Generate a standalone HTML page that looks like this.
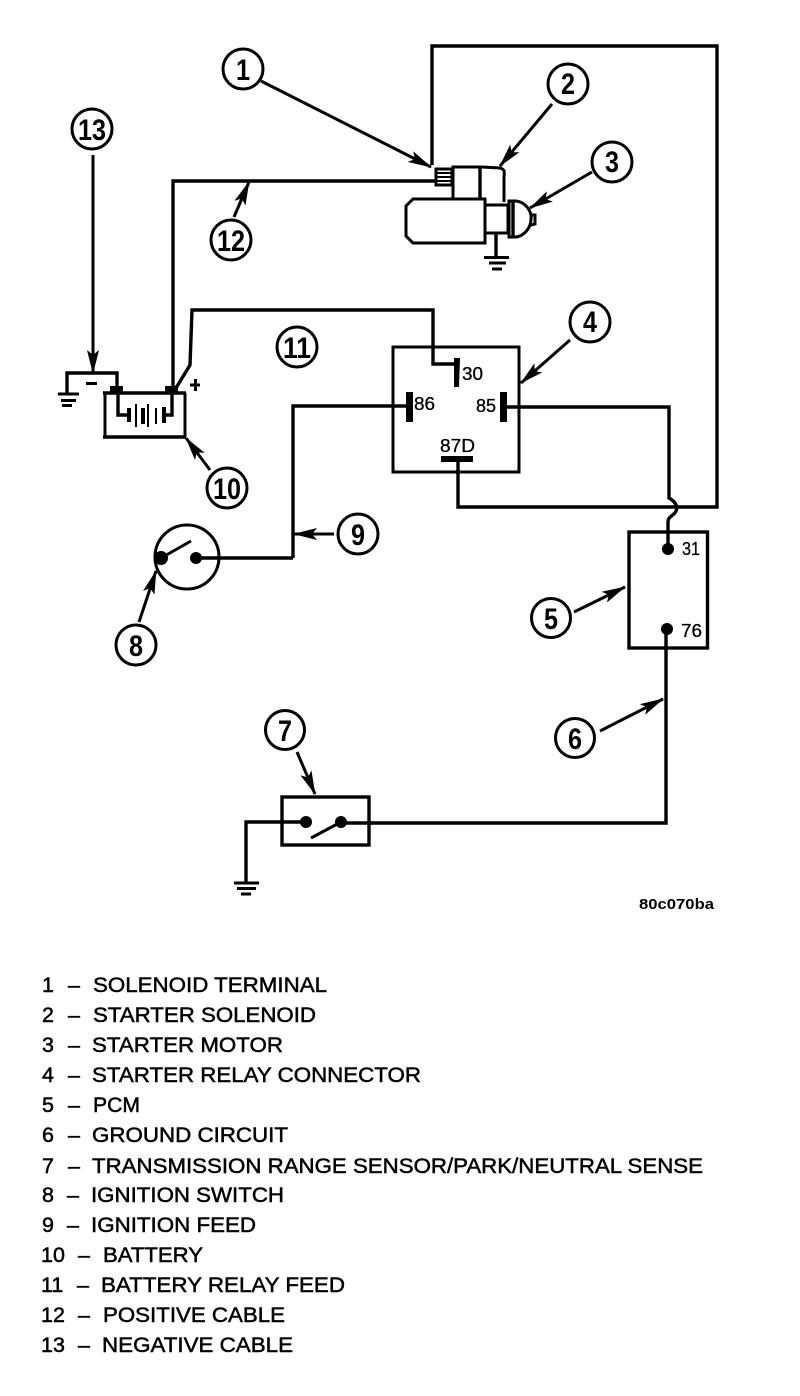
<!DOCTYPE html>
<html>
<head>
<meta charset="utf-8">
<style>
html,body{margin:0;padding:0;background:#fff}
svg{display:block}
text{font-family:"Liberation Sans",sans-serif;fill:#000}
.l{font-size:21.5px;stroke:#000;stroke-width:.5px}
.c{font-size:30px;font-weight:bold;text-anchor:middle}
.p{font-size:18.500px;stroke:#000;stroke-width:.3px}
.w{fill:none;stroke:#000;stroke-width:3.4}
.t{fill:none;stroke:#000;stroke-width:3}
.a{fill:none;stroke:#000;stroke-width:3;marker-end:url(#ah)}
circle.n{fill:#fff;stroke:#000;stroke-width:3}
</style>
</head>
<body>
<svg width="800" height="1396" viewBox="0 0 800 1396" xmlns="http://www.w3.org/2000/svg">
<defs>
<marker id="ah" markerUnits="userSpaceOnUse" markerWidth="26" markerHeight="14" refX="23" refY="6" orient="auto" viewBox="0 0 26 12">
<path d="M0 0L24 6L0 12L5 6Z" fill="#000"/>
</marker>
</defs>
<rect width="800" height="1396" fill="#fff"/>

<!-- wires -->
<path class="w" d="M432 165V46H717V507H458V460"/>
<path class="w" d="M173 391V181H436"/>
<path class="w" d="M176 388L190 365L192 310H433V364H456"/>
<path class="w" d="M293 558V406H408"/>
<path class="w" d="M200 558H293"/>
<path class="w" d="M503 407H669V498C676 502 678 507 676 511C674 516 668 516 668 522V548"/>
<path class="w" d="M666 628V823H370"/>
<path class="w" d="M246 882V822H306"/>
<path class="w" d="M341 823H372"/>

<!-- starter -->
<path class="t" d="M436 169H452V185H436Z"/>
<path d="M437 173H451M437 177H451M437 181H451" stroke="#000" stroke-width="2" fill="none"/>
<path class="t" d="M453 199V167H482L500 168C506 170 504 172 504 178V202"/>
<path class="w" d="M480 167V199"/>
<path class="t" d="M413 199H485V243H413L406 236V206Z"/>
<path class="t" d="M485 205H508V233H485"/>
<path class="t" d="M509 201H516C526 202 532 212 531 219C531 228 524 236 516 237H509Z"/>
<path class="w" d="M513 202V236"/>
<path class="t" d="M531 215L535 215V224L531 225"/>
<path class="w" d="M496 234V257"/>
<path class="t" d="M484 257.500H509M489 263H506M492 269H502"/>

<!-- battery -->
<path class="w" d="M103 393H186M103 437H186"/>
<path class="t" d="M105 393V437M185 393V437"/>
<path d="M110 386H123V392H110ZM165 386H178V392H165Z" fill="#000"/>
<path class="w" d="M117 388V373H67V393"/>
<path class="w" d="M118 392V415H128"/>
<path class="w" d="M172 392V415H164"/>
<path d="M127 408H131V422H127ZM135 404H137V427H135ZM141 408H145V424H141ZM147 404H149V427H147ZM155 408H157V424H155ZM162 407H166V423H162Z" fill="#000"/>
<path class="t" d="M58 394H79M61 400.500H76M62 405.500H72"/>
<path d="M86 382H97V385H86Z" fill="#000"/>
<path d="M194 379H197V391H194ZM190 383.500H200V386.500H190Z" fill="#000"/>

<!-- relay -->
<rect class="t" x="393" y="347" width="126" height="125"/>
<path d="M454 358H460L459 387H454ZM406 392H413V422H406ZM500 392H507V422H500ZM441 456H473V462H441Z" fill="#000"/>
<text class="p" x="462" y="380" textLength="21" lengthAdjust="spacingAndGlyphs">30</text>
<text class="p" x="414" y="410" textLength="21" lengthAdjust="spacingAndGlyphs">86</text>
<text class="p" x="476" y="412" textLength="20" lengthAdjust="spacingAndGlyphs">85</text>
<text class="p" x="440" y="452" textLength="35" lengthAdjust="spacingAndGlyphs">87D</text>

<!-- PCM -->
<rect class="w" x="629" y="532" width="78.500" height="116"/>
<circle cx="668" cy="549" r="6"/>
<circle cx="667" cy="629" r="6"/>
<text class="p" x="682" y="555" textLength="18" lengthAdjust="spacingAndGlyphs">31</text>
<text class="p" x="681" y="637" textLength="21" lengthAdjust="spacingAndGlyphs">76</text>

<!-- ignition switch -->
<circle cx="187" cy="557" r="32" fill="none" stroke="#000" stroke-width="3"/>
<circle cx="161" cy="558" r="7"/>
<circle cx="196" cy="558" r="6"/>
<path class="t" d="M161 558L191 541"/>

<!-- range switch -->
<rect class="w" x="282" y="797" width="87" height="48"/>
<circle cx="306" cy="822" r="6"/>
<circle cx="341" cy="822" r="6"/>
<path class="t" d="M311 838L341 822"/>
<path class="t" d="M234 883H259M237 888.500H256M241 894H251"/>

<!-- arrows -->
<path class="a" d="M261 81L431 167"/>
<path class="a" d="M552 104L500 166"/>
<path class="a" d="M592 172L530 208"/>
<path class="a" d="M570 340L521 383"/>
<path class="a" d="M574 612L625 587"/>
<path class="a" d="M600 731L663 699"/>
<path class="a" d="M297 752L315 794"/>
<path class="a" d="M139 622L156 571"/>
<path class="a" d="M334 534L294 534"/>
<path class="a" d="M210 470L186 438"/>
<path class="a" d="M234 217L249 182"/>
<path class="a" d="M93 155L93 373"/>

<!-- callouts -->
<circle class="n" cx="243" cy="69" r="20"/><text class="c" x="243" y="80" textLength="14" lengthAdjust="spacingAndGlyphs">1</text>
<circle class="n" cx="568" cy="84" r="20"/><text class="c" x="568" y="94" textLength="14" lengthAdjust="spacingAndGlyphs">2</text>
<circle class="n" cx="612" cy="162" r="20"/><text class="c" x="612" y="172" textLength="14" lengthAdjust="spacingAndGlyphs">3</text>
<circle class="n" cx="590" cy="322" r="20"/><text class="c" x="590" y="332" textLength="14" lengthAdjust="spacingAndGlyphs">4</text>
<circle class="n" cx="551" cy="618" r="19.500"/><text class="c" x="551" y="629" textLength="14" lengthAdjust="spacingAndGlyphs">5</text>
<circle class="n" cx="575" cy="738" r="19.500"/><text class="c" x="575" y="749" textLength="14" lengthAdjust="spacingAndGlyphs">6</text>
<circle class="n" cx="285" cy="730" r="19.500"/><text class="c" x="285" y="741" textLength="14" lengthAdjust="spacingAndGlyphs">7</text>
<circle class="n" cx="136" cy="645" r="20"/><text class="c" x="136" y="656" textLength="14" lengthAdjust="spacingAndGlyphs">8</text>
<circle class="n" cx="358" cy="534" r="20"/><text class="c" x="358" y="545" textLength="14" lengthAdjust="spacingAndGlyphs">9</text>
<circle class="n" cx="227" cy="488" r="20"/><text class="c" x="227" y="499" textLength="28" lengthAdjust="spacingAndGlyphs">10</text>
<circle class="n" cx="297" cy="347" r="20"/><text class="c" x="297" y="358" textLength="28" lengthAdjust="spacingAndGlyphs">11</text>
<circle class="n" cx="231" cy="240" r="20"/><text class="c" x="231" y="251" textLength="28" lengthAdjust="spacingAndGlyphs">12</text>
<circle class="n" cx="92" cy="129" r="20"/><text class="c" x="92" y="140" textLength="28" lengthAdjust="spacingAndGlyphs">13</text>

<text x="639" y="909" style="font-size:15px;font-weight:bold" textLength="75" lengthAdjust="spacingAndGlyphs">80c070ba</text>

<!-- legend -->
<g class="l">
<text class="l" x="42" y="992">1</text><text class="l" x="68" y="992">–</text><text class="l" x="93" y="992" textLength="234" lengthAdjust="spacingAndGlyphs">SOLENOID TERMINAL</text>
<text class="l" x="42" y="1022">2</text><text class="l" x="68" y="1022">–</text><text class="l" x="93" y="1022" textLength="223" lengthAdjust="spacingAndGlyphs">STARTER SOLENOID</text>
<text class="l" x="42" y="1052">3</text><text class="l" x="68" y="1052">–</text><text class="l" x="92" y="1052" textLength="191" lengthAdjust="spacingAndGlyphs">STARTER MOTOR</text>
<text class="l" x="42" y="1082">4</text><text class="l" x="68" y="1082">–</text><text class="l" x="92" y="1082" textLength="329" lengthAdjust="spacingAndGlyphs">STARTER RELAY CONNECTOR</text>
<text class="l" x="42" y="1112">5</text><text class="l" x="68" y="1112">–</text><text class="l" x="93" y="1112" textLength="47" lengthAdjust="spacingAndGlyphs">PCM</text>
<text class="l" x="42" y="1142">6</text><text class="l" x="68" y="1142">–</text><text class="l" x="92" y="1142" textLength="196" lengthAdjust="spacingAndGlyphs">GROUND CIRCUIT</text>
<text class="l" x="42" y="1173">7</text><text class="l" x="68" y="1173">–</text><text class="l" x="92" y="1173" textLength="611" lengthAdjust="spacingAndGlyphs">TRANSMISSION RANGE SENSOR/PARK/NEUTRAL SENSE</text>
<text class="l" x="42" y="1202">8</text><text class="l" x="67" y="1202">–</text><text class="l" x="91" y="1202" textLength="193" lengthAdjust="spacingAndGlyphs">IGNITION SWITCH</text>
<text class="l" x="42" y="1232">9</text><text class="l" x="67" y="1232">–</text><text class="l" x="91" y="1232" textLength="165" lengthAdjust="spacingAndGlyphs">IGNITION FEED</text>
<text class="l" x="41" y="1262">10</text><text class="l" x="78" y="1262">–</text><text class="l" x="103" y="1262" textLength="100" lengthAdjust="spacingAndGlyphs">BATTERY</text>
<text class="l" x="41" y="1292">11</text><text class="l" x="77" y="1292">–</text><text class="l" x="101" y="1292" textLength="244" lengthAdjust="spacingAndGlyphs">BATTERY RELAY FEED</text>
<text class="l" x="41" y="1322">12</text><text class="l" x="78" y="1322">–</text><text class="l" x="103" y="1322" textLength="182" lengthAdjust="spacingAndGlyphs">POSITIVE CABLE</text>
<text class="l" x="41" y="1352">13</text><text class="l" x="78" y="1352">–</text><text class="l" x="102" y="1352" textLength="191" lengthAdjust="spacingAndGlyphs">NEGATIVE CABLE</text>
</g>
</svg>
</body>
</html>
